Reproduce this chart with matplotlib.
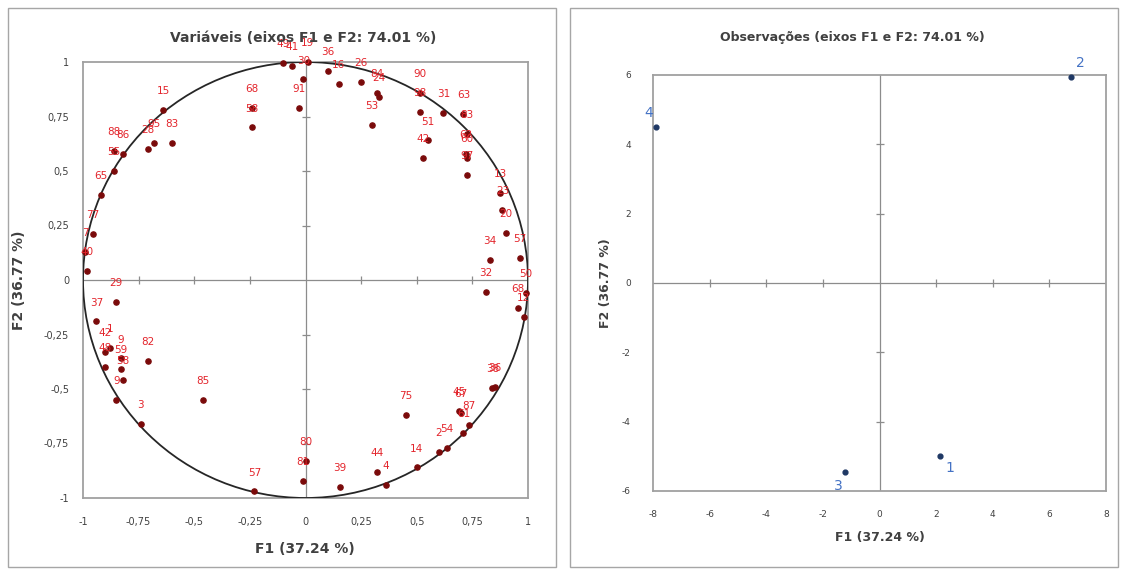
import numpy as np
import matplotlib
matplotlib.use("Agg")
from matplotlib import pyplot as plt
from matplotlib.patches import Rectangle, Ellipse

plt.rcParams['font.family'] = ['DejaVu Sans']
plt.rcParams['axes.unicode_minus'] = False

# ---- dados: variaveis (circulo de correlacoes) ----
var_f1 = [-0.64, -0.68, -0.71, -0.60, -0.82, -0.86, -0.86, -0.92, -0.955, -0.99, -0.98,
          -0.24, -0.24, -0.10, -0.06, -0.03, -0.01, 0.01,
          0.10, 0.15, 0.25, 0.32, 0.33, 0.30, 0.515, 0.515, 0.62, 0.55, 0.53,
          0.71, 0.725, 0.72, 0.725, 0.725, 0.875, 0.885, 0.90, 0.965, 0.83, 0.81,
          0.99, 0.955, 0.98, 0.84, 0.85, 0.69, 0.70, 0.71, 0.735, 0.60, 0.635,
          0.45, 0.50, 0.32, 0.36, 0.155, -0.01, 0.0,
          -0.23, -0.46, -0.74, -0.71, -0.85, -0.82, -0.83, -0.90, -0.83, -0.90, -0.88,
          -0.94, -0.85]
var_f2 = [0.78, 0.63, 0.60, 0.63, 0.58, 0.59, 0.50, 0.39, 0.21, 0.13, 0.04,
          0.79, 0.70, 0.995, 0.98, 0.79, 0.92, 1.0,
          0.96, 0.90, 0.91, 0.86, 0.84, 0.71, 0.86, 0.77, 0.765, 0.64, 0.56,
          0.76, 0.67, 0.58, 0.56, 0.48, 0.40, 0.32, 0.215, 0.10, 0.09, -0.055,
          -0.06, -0.13, -0.17, -0.495, -0.49, -0.60, -0.61, -0.70, -0.665, -0.79, -0.77,
          -0.62, -0.86, -0.88, -0.94, -0.95, -0.92, -0.83,
          -0.97, -0.55, -0.66, -0.37, -0.55, -0.46, -0.41, -0.40, -0.36, -0.33, -0.31,
          -0.19, -0.10]
var_labels = ["15", "95", "28", "83", "86", "88", "55", "65", "77", "7", "40",
              "68", "58", "49", "41", "91", "30", "19",
              "36", "16", "26", "84", "24", "53", "90", "98", "31", "51", "42",
              "63", "83", "62", "60", "97", "13", "23", "20", "57", "34", "32",
              "50", "68", "12", "38", "36", "45", "67", "61", "87", "2", "54",
              "75", "14", "44", "4", "39", "81", "80",
              "57", "85", "3", "82", "9", "58", "59", "48", "9", "42", "1",
              "37", "29"]

# ---- dados: observacoes ----
obs_f1 = [2.14, 6.75, -1.22, -7.9]
obs_f2 = [-4.99, 5.95, -5.45, 4.5]
obs_labels = ["1", "2", "3", "4"]
obs_offsets = [(7, -9), (7, 10), (-5, -10), (-5, 10)]

ticks_var = [-1, -0.75, -0.5, -0.25, 0, 0.25, 0.5, 0.75, 1]
ticks_obs_x = [-8, -6, -4, -2, 0, 2, 4, 6, 8]
ticks_obs_y = [-6, -4, -2, 0, 2, 4, 6]

W, H = 1125, 572
fig = plt.figure(figsize=(W / 100, H / 100), dpi=100)

# molduras dos dois graficos
for x0 in [8, 570]:
    fig.patches.append(Rectangle((x0 / W, 5 / H), 548 / W, 559 / H, transform=fig.transFigure,
                                 fill=False, edgecolor='#a6a6a6', lw=1.0))

grey = '#8c8c8c'
txt = '#404040'


def style_axes(ax):
    for s in ax.spines.values():
        s.set_color('#a0a0a0')
        s.set_linewidth(1.3)
    ax.axhline(0, color=grey, lw=0.9, zorder=1)
    ax.axvline(0, color=grey, lw=0.9, zorder=1)
    ax.tick_params(length=0, colors=txt, labelsize=7)


def ftext(x, y, s, **kw):
    # texto em pixels da imagem (origem no canto superior esquerdo)
    fig.text(x / W, 1 - y / H, s, ha='center', va='center', color=txt, fontweight='bold', **kw)


# ---- grafico da esquerda ----
ax1 = fig.add_axes([83 / W, 74 / H, 445 / W, 436 / H])
style_axes(ax1)
ax1.set_xlim(-1, 1)
ax1.set_ylim(-1, 1)
ax1.set_xticks(ticks_var)
ax1.set_yticks(ticks_var)
lab = [('%g' % t).replace('.', ',') for t in ticks_var]
ax1.set_xticklabels(lab)
ax1.set_yticklabels(lab)
ax1.tick_params(axis='x', pad=14)
ax1.tick_params(axis='y', pad=10)
inner = [t for t in ticks_var if abs(t) < 1 and t != 0]
ax1.plot(inner, [0] * len(inner), '|', color=grey, ms=6, mew=0.9)
ax1.plot([0] * len(inner), inner, '_', color=grey, ms=6, mew=0.9)
ax1.add_patch(Ellipse((0, 0), 2, 2, fill=False, edgecolor='#262626', lw=1.3, zorder=3))
ax1.scatter(var_f1, var_f2, s=14, color='#7a0a0a', zorder=4, clip_on=False)
for x, y, t in zip(var_f1, var_f2, var_labels):
    ax1.annotate(t, (x, y), xytext=(0, 10), textcoords='offset points', ha='center', va='bottom',
                 fontsize=7.5, color='#e3242b', zorder=5, annotation_clip=False)
ftext(303, 38, 'Variáveis (eixos F1 e F2: 74.01 %)', fontsize=10)
ftext(305, 549, 'F1 (37.24 %)', fontsize=10)
ftext(19, 280, 'F2 (36.77 %)', fontsize=10, rotation=90)

# ---- grafico da direita ----
ax2 = fig.add_axes([653 / W, 81 / H, 453 / W, 416 / H])
style_axes(ax2)
ax2.set_xlim(-8, 8)
ax2.set_ylim(-6, 6)
ax2.set_xticks(ticks_obs_x)
ax2.set_yticks(ticks_obs_y)
ax2.tick_params(labelsize=6.5)
ax2.tick_params(axis='x', pad=14)
ax2.tick_params(axis='y', pad=16)
ix = [t for t in ticks_obs_x if abs(t) < 8 and t != 0]
iy = [t for t in ticks_obs_y if abs(t) < 6 and t != 0]
ax2.plot(ix, [0] * len(ix), '|', color=grey, ms=6, mew=0.9)
ax2.plot([0] * len(iy), iy, '_', color=grey, ms=6, mew=0.9)
ax2.scatter(obs_f1, obs_f2, s=12, color='#1f3864', zorder=4, clip_on=False)
for x, y, t, off in zip(obs_f1, obs_f2, obs_labels, obs_offsets):
    ax2.annotate(t, (x, y), xytext=off, textcoords='offset points', ha='center', va='center',
                 fontsize=10, color='#4472c4', annotation_clip=False)
ftext(852, 38, 'Observações (eixos F1 e F2: 74.01 %)', fontsize=9)
ftext(880, 537, 'F1 (37.24 %)', fontsize=9)
ftext(606, 283, 'F2 (36.77 %)', fontsize=9, rotation=90)

fig.savefig('out.png', dpi=100)
